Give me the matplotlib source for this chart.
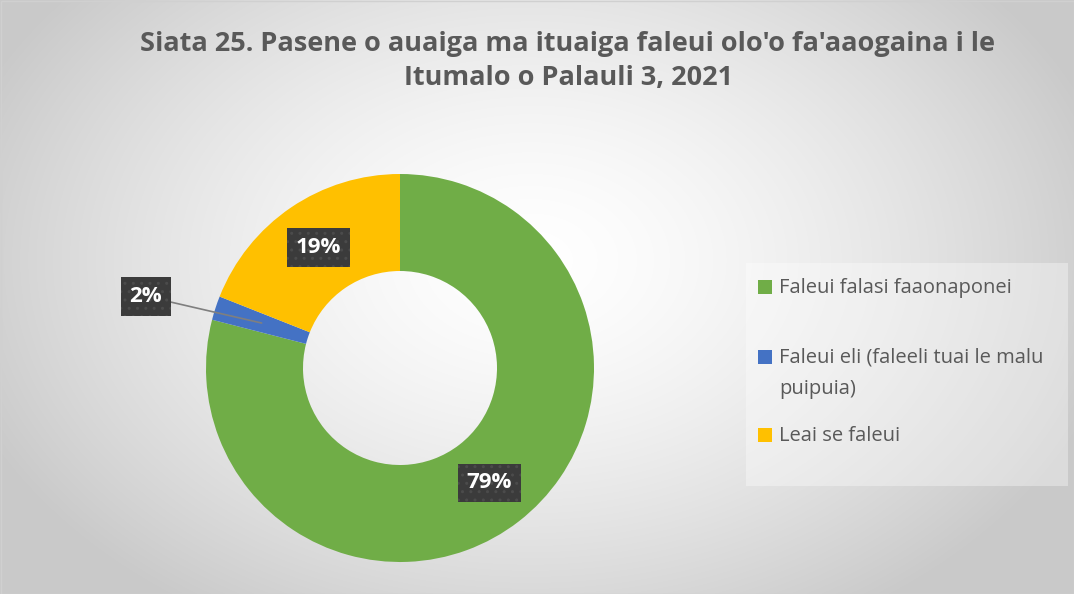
import matplotlib
matplotlib.use("Agg")
import matplotlib.pyplot as plt
import matplotlib.patches as mpatches
import numpy as np

categories = ["Faleui falasi faaonaponei",
              "Faleui eli (faleeli tuai le malu\npuipuia)",
              "Leai se faleui"]
values = [79, 2, 19]
colors = ["#70ad47", "#4472c4", "#ffc000"]
title_text = "Siata 25. Pasene o auaiga ma ituaiga faleui olo'o fa'aaogaina i le\nItumalo o Palauli 3, 2021"

plt.rcParams["font.family"] = ["Open Sans", "DejaVu Sans"]

W, H = 1074, 594
fig = plt.figure(figsize=(W / 100, H / 100), dpi=100)

# radial gradient background
bg = fig.add_axes([0, 0, 1, 1])
yy, xx = np.mgrid[0:H, 0:W]
d = np.sqrt(((xx - 530) / 600) ** 2 + ((yy - 260) / 420) ** 2)
shade = 1.0 - 0.21 * np.clip(d, 0, 1) ** 1.5
bg.imshow(np.dstack([shade] * 3), extent=[0, W, H, 0], aspect="auto")
bg.add_patch(mpatches.Rectangle((0.5, 0.5), W - 1, H - 1, fill=False, edgecolor="#d0d0d0", lw=1))
bg.set_xlim(0, W)
bg.set_ylim(H, 0)
bg.axis("off")

fig.text(568 / W, 1 - 61 / H, title_text, ha="center", va="center", fontsize=19.5,
         fontweight="bold", color="#595959", linespacing=1.42)

# donut
cx, cy, r = 400, 368, 194
ax = fig.add_axes([(cx - 200) / W, (H - cy - 200) / H, 400 / W, 400 / H])
wedges, _ = ax.pie(values, colors=colors, startangle=90, counterclock=False,
                   wedgeprops=dict(width=0.5, edgecolor="none"))
lim = 200 / r
ax.set_xlim(-lim, lim)
ax.set_ylim(-lim, lim)
ax.set_aspect("equal")
ax.axis("off")

box = dict(boxstyle="square,pad=0.4", facecolor="#3b3b3b", edgecolor="#4b4b4b",
           linewidth=0, hatch="..")
for w, v in zip(wedges, values):
    ang = np.deg2rad((w.theta1 + w.theta2) / 2)
    x, y = 0.75 * np.cos(ang), 0.75 * np.sin(ang)
    if v < 5:
        ax.annotate(f"{v}%", xy=(x, y), xytext=(-1.31, 0.37), ha="center", va="center",
                    fontsize=16, fontweight="bold", color="white", bbox=box,
                    arrowprops=dict(arrowstyle="-", color="#7f7f7f", lw=1.2,
                                    connectionstyle="angle,angleA=0,angleB=-13,rad=0",
                                    shrinkA=0, shrinkB=0))
    else:
        ax.text(x, y, f"{v}%", ha="center", va="center", fontsize=16,
                fontweight="bold", color="white", bbox=box)

# legend
leg_bg = mpatches.Rectangle((746, 263), 322, 223, facecolor="white", alpha=0.35,
                            edgecolor="none")
bg.add_patch(leg_bg)
leg_y = [287, 357, 435]
for lab, col, ly in zip(categories, colors, leg_y):
    bg.add_patch(mpatches.Rectangle((758, ly - 7), 14, 14, facecolor=col, edgecolor="none"))
    bg.text(779, ly - 9, lab, ha="left", va="top", fontsize=14.5, color="#595959",
            linespacing=1.75)

fig.savefig("out.png", dpi=100)
